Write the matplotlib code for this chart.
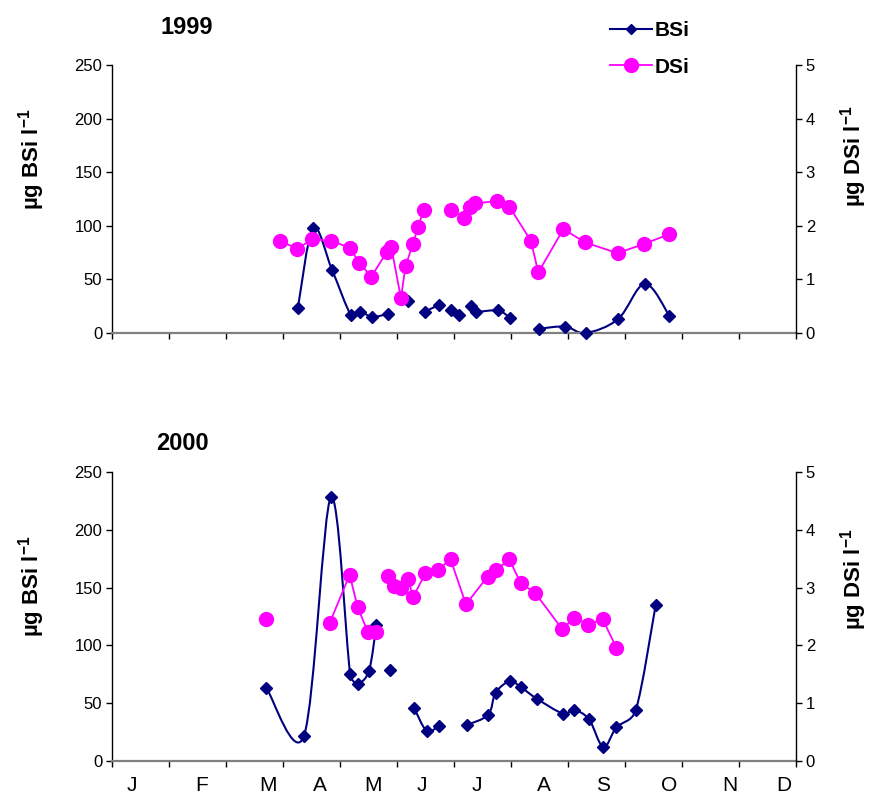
import matplotlib
matplotlib.use('Agg')
import numpy as np
import matplotlib.pyplot as plt
from matplotlib.path import Path
from matplotlib.patches import PathPatch
from matplotlib.lines import Line2D

plt.rcParams['font.family'] = 'Liberation Sans'
plt.rcParams['mathtext.fontset'] = 'custom'
plt.rcParams['mathtext.rm'] = 'Liberation Sans'
plt.rcParams['mathtext.bf'] = 'Liberation Sans:bold'

BSI_COLOR = '#000080'
DSI_COLOR = '#ff00ff'

months = ['J', 'F', 'M', 'A', 'M', 'J', 'J', 'A', 'S', 'O', 'N', 'D']
month_label_pos = [0.35, 1.57, 2.73, 3.64, 4.58, 5.44, 6.41, 7.57, 8.62, 9.77, 10.84, 11.79]

# sampling time in months from 1 Jan; None = gap in the series
bsi_1999_t = [3.26, 3.53, 3.86, 4.19, 4.35, 4.57, 4.84, None, 5.19, None, 5.49, 5.73,
              None, 5.95, 6.09, None, 6.30, 6.39, 6.77, 6.99, None,
              7.50, 7.95, 8.31, 8.88, 9.35, 9.78]
bsi_1999 = [23, 98, 59, 17, 20, 15, 18, None, 30, None, 20, 26,
            None, 21, 17, None, 25, 20, 21, 14, None,
            4, 6, 0, 13, 46, 16]

dsi_1999_t = [2.95, 3.25, 3.51, 3.85, 4.17, 4.34, 4.55, 4.82, 4.90, 5.07, 5.15, 5.28, 5.37, 5.47,
              None, 5.94, 6.18, 6.29, 6.37, 6.75, 6.97, 7.35, 7.48, 7.92, 8.30, 8.87, 9.33, 9.77]
dsi_1999 = [1.72, 1.57, 1.75, 1.72, 1.59, 1.31, 1.05, 1.51, 1.60, 0.65, 1.25, 1.66, 1.98, 2.30,
            None, 2.30, 2.15, 2.36, 2.42, 2.46, 2.36, 1.72, 1.13, 1.94, 1.69, 1.49, 1.66, 1.84]

bsi_2000_t = [2.71, 3.37, 3.84, 4.18, 4.32, 4.51, 4.64, None, 4.87, None,
              5.30, 5.52, 5.73, None,
              6.22, 6.60, 6.73, 6.98, 7.17, 7.45, 7.91, 8.11, 8.37, 8.62, 8.85, 9.19, 9.54]
bsi_2000 = [63, 22, 228, 75, 67, 78, 118, None, 79, None,
            46, 26, 30, None,
            31, 40, 59, 69, 64, 54, 41, 44, 36, 12, 29, 44, 135]

dsi_2000_t = [2.71, None, 3.82, 4.17, 4.31, 4.49, 4.64, None,
              4.85, 4.94, 5.07, 5.20, 5.28, 5.50, 5.72, 5.94, 6.21, 6.59, 6.74, 6.97,
              7.17, 7.43, 7.90, 8.11, 8.36, 8.61, 8.85]
dsi_2000 = [2.45, None, 2.39, 3.22, 2.66, 2.23, 2.23, None,
            3.20, 3.02, 2.99, 3.15, 2.83, 3.25, 3.30, 3.49, 2.71, 3.19, 3.30, 3.49,
            3.08, 2.90, 2.28, 2.48, 2.36, 2.45, 1.96]


def runs(t, v):
    """Split a series into unbroken runs at the None entries."""
    out, cur = [], []
    for ti, vi in zip(t, v):
        if vi is None:
            if cur:
                out.append(cur)
            cur = []
        else:
            cur.append((ti, vi))
    if cur:
        out.append(cur)
    return [np.array(r, dtype=float) for r in out]


def smooth_path(ax, pts):
    # spreadsheet-style smoothed line: Bezier with tangents (p[i+1]-p[i-1])/6,
    # worked out in pixels and shortened next to short segments
    px = ax.transData.transform(pts)
    n = len(px)
    c_in, c_out = [None] * n, [None] * n
    for i in range(n):
        p0, p1, p2 = px[max(i - 1, 0)], px[i], px[min(i + 1, n - 1)]
        d02 = np.hypot(*(p2 - p0))
        if d02 == 0:
            c_in[i] = c_out[i] = p1
            continue
        u = (p2 - p0) / d02
        d01 = np.hypot(*(p1 - p0))
        d12 = np.hypot(*(p2 - p1))
        if i == 0 or i == n - 1:
            ln_in = ln_out = d02 / 6
        else:
            ln_in = min(d02 / 6, d01 / 2)
            ln_out = min(d02 / 6, d12 / 2)
        c_in[i] = p1 - u * ln_in
        c_out[i] = p1 + u * ln_out
    verts, codes = [px[0]], [Path.MOVETO]
    for i in range(n - 1):
        verts += [c_out[i], c_in[i + 1], px[i + 1]]
        codes += [Path.CURVE4] * 3
    verts = ax.transData.inverted().transform(np.array(verts))
    return Path(verts, codes)


def draw_panel(ax, bt, bv, dt, dv, show_months, label_y):
    ax.set_xlim(0, 12)
    ax.set_ylim(0, 250)
    ax.set_yticks(range(0, 251, 50))
    ax.set_xticks(range(13))
    ax.set_xticklabels([])
    if show_months:
        ax.set_xticks(month_label_pos, minor=True)
        ax.set_xticklabels(months, minor=True, fontsize=15)
        ax.tick_params(axis='x', which='minor', length=0, pad=11)
    ax.tick_params(axis='y', labelsize=12, length=4, width=1, direction='out', pad=3)
    ax.tick_params(axis='x', which='major', length=4, width=1, direction='out')
    ax.spines['top'].set_visible(False)
    ax.spines['right'].set_visible(False)
    ax.spines['bottom'].set_color('#808080')
    ax.spines['bottom'].set_linewidth(1.6)
    ax.spines['left'].set_linewidth(1)
    ax.set_ylabel(r'µg BSi l$^{\mathbf{-1}}$', fontsize=16, fontweight='bold', va='center')
    ax.yaxis.set_label_coords(-0.118, label_y[0])

    for r in runs(bt, bv):
        if len(r) > 1:
            ax.add_patch(PathPatch(smooth_path(ax, r), fill=False, edgecolor=BSI_COLOR,
                                   linewidth=1.5, zorder=2))
        ax.plot(r[:, 0], r[:, 1], linestyle='none', marker='D', markersize=6,
                color=BSI_COLOR, zorder=3, clip_on=False)

    ax2 = ax.twinx()
    ax2.set_ylim(0, 5)
    ax2.set_yticks(range(6))
    ax2.tick_params(axis='y', labelsize=12, length=4, width=1, direction='out', pad=3)
    for s in ('top', 'left', 'bottom'):
        ax2.spines[s].set_visible(False)
    ax2.spines['right'].set_linewidth(1)
    ax2.set_ylabel(r'µg DSi l$^{\mathbf{-1}}$', fontsize=16, fontweight='bold', va='center')
    ax2.yaxis.set_label_coords(1.084, label_y[1])
    for r in runs(dt, dv):
        ax2.plot(r[:, 0], r[:, 1], color=DSI_COLOR, linewidth=1.3, marker='o',
                 markersize=11, markeredgewidth=0, zorder=3)
    return ax2


fig = plt.figure(figsize=(8.69, 7.94), dpi=100)
ax_top = fig.add_axes([0.1289, 0.5806, 0.787, 0.3375])
ax_bot = fig.add_axes([0.1289, 0.0416, 0.787, 0.364])

draw_panel(ax_top, bsi_1999_t, bsi_1999, dsi_1999_t, dsi_1999, False, (0.65, 0.66))
draw_panel(ax_bot, bsi_2000_t, bsi_2000, dsi_2000_t, dsi_2000, True, (0.605, 0.63))

fig.text(187 / 869, 1 - 28 / 794, '1999', ha='center', va='center',
         fontsize=17, fontweight='bold')
fig.text(182 / 869, 1 - 444 / 794, '2000', ha='center', va='center',
         fontsize=17, fontweight='bold')

handles = [
    Line2D([], [], color=BSI_COLOR, linewidth=1.5, marker='D', markersize=5),
    Line2D([], [], color=DSI_COLOR, linewidth=1.3, marker='o', markersize=11,
           markeredgewidth=0),
]
fig.legend(handles, ['BSi', 'DSi'], loc='upper left',
           bbox_to_anchor=(610 / 869, 1 - 21 / 794), frameon=False,
           prop={'size': 15, 'weight': 'bold'}, handlelength=2.0,
           handletextpad=0.15, labelspacing=0.85, borderpad=0, borderaxespad=0)

fig.savefig('out.png', dpi=100)
